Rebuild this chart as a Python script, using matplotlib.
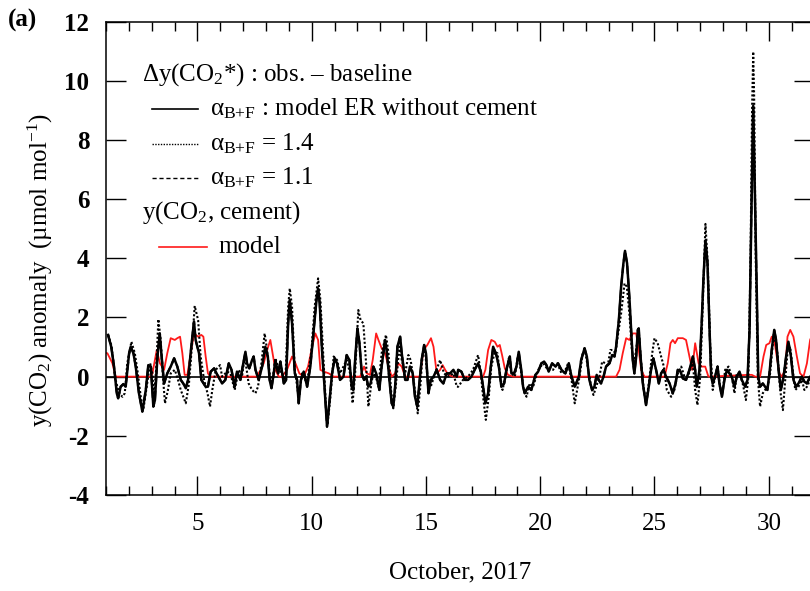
import matplotlib
matplotlib.use("Agg")
import matplotlib.pyplot as plt
from matplotlib.ticker import MultipleLocator

plt.rcParams["font.family"] = ["Liberation Serif", "DejaVu Serif"]
plt.rcParams["mathtext.fontset"] = "custom"
plt.rcParams["mathtext.rm"] = "Liberation Serif"
plt.rcParams["mathtext.it"] = "Liberation Serif:italic"
plt.rcParams["mathtext.bf"] = "Liberation Serif:bold"
plt.rcParams["axes.unicode_minus"] = False

# day of October 2017 and anomaly (umol/mol)
solid_t = [1.09, 1.23, 1.35, 1.47, 1.53, 1.64, 1.76, 1.86, 2.01, 2.08, 2.20, 2.30, 2.44, 2.59, 2.74, 2.85,
           2.96, 3.07, 3.14, 3.25, 3.35, 3.42, 3.54, 3.68, 3.83, 3.98, 4.12, 4.27, 4.38, 4.49, 4.59, 4.73,
           4.85, 4.92, 5.07, 5.17, 5.36, 5.46, 5.58, 5.73, 5.87,
           6.08, 6.22, 6.37, 6.49, 6.63, 6.73, 6.88, 6.98, 7.10, 7.17, 7.27, 7.39, 7.46, 7.54, 7.68, 7.83,
           7.97, 8.08, 8.16, 8.24, 8.34, 8.41, 8.53, 8.63, 8.78, 8.88, 8.97, 9.04, 9.14, 9.26, 9.36, 9.43,
           9.53, 9.65, 9.80, 9.94, 10.09, 10.21, 10.28, 10.35, 10.45, 10.56, 10.67, 10.77, 10.89, 11.01, 11.11,
           11.24, 11.39, 11.53, 11.65, 11.75, 11.82, 11.90, 12.00, 12.09, 12.19, 12.29, 12.38, 12.48, 12.58,
           12.70, 12.82, 12.96, 13.06, 13.21, 13.28, 13.40, 13.50, 13.57, 13.65, 13.75, 13.87, 13.94, 14.09,
           14.19, 14.30, 14.42, 14.52, 14.62, 14.71, 14.81, 14.92, 15.00, 15.11, 15.21, 15.33, 15.47, 15.62,
           15.76, 15.91, 16.05, 16.20, 16.35,
           16.41, 16.55, 16.70, 16.84, 16.99, 17.13, 17.28, 17.40, 17.50, 17.60, 17.72, 17.82, 17.94, 18.08,
           18.19, 18.30, 18.42, 18.52, 18.67, 18.74, 18.86, 18.96, 19.06, 19.15, 19.25, 19.32, 19.47, 19.61,
           19.79, 19.91, 20.05, 20.17, 20.27, 20.37, 20.52, 20.67, 20.78, 20.93, 21.10, 21.25, 21.37, 21.51,
           21.57, 21.69, 21.79, 21.94, 22.04, 22.15, 22.27, 22.37, 22.47, 22.56, 22.66, 22.77, 22.88, 23.03,
           23.15, 23.25, 23.32, 23.44, 23.54, 23.64, 23.71, 23.80, 23.90, 23.98, 24.05, 24.12, 24.20, 24.27,
           24.31, 24.39, 24.49, 24.63, 24.75, 24.85, 24.95, 25.07, 25.19, 25.29, 25.39, 25.51, 25.66, 25.80,
           25.92, 26.02, 26.14, 26.24, 26.38, 26.53,
           26.68, 26.78, 26.85, 26.97, 27.07, 27.14, 27.23, 27.32, 27.41, 27.48, 27.55, 27.65, 27.76, 27.84,
           27.95, 28.06, 28.17, 28.28, 28.38, 28.50, 28.60, 28.72, 28.82, 28.97, 29.07, 29.16, 29.23, 29.32,
           29.41, 29.48, 29.54, 29.62, 29.74, 29.84, 29.94, 30.03, 30.13, 30.24, 30.32, 30.43, 30.53, 30.65,
           30.76, 30.86, 30.97, 31.08, 31.20, 31.30, 31.45, 31.56, 31.67, 31.81, 31.95]
solid_v = [1.41, 1.00, 0.34, -0.56, -0.73, -0.34, -0.25, -0.34, 0.79, 1.01, 0.79, 0.34, -0.56, -1.18, -0.45, 0.39,
           0.34, -1.01, -0.79, 0.68, 1.46, 0.79, -0.23, 0.11, 0.34, 0.62, 0.34, -0.11, -0.23, -0.39, -0.11, 1.01,
           1.86, 1.24, 0.79, -0.11, -0.34, -0.34, 0.17, 0.28, 0.06,
           -0.23, -0.11, 0.45, 0.23, -0.34, 0.17, -0.11, 0.34, 0.84, 0.45, 0.28, 0.56, 0.68, 0.23, -0.11, 0.34,
           1.01, 0.68, -0.11, -0.39, 0.11, 0.56, 0.11, 0.51, -0.23, -0.11, 1.80, 2.59, 1.80, 0.11, -0.11, -0.90,
           -0.11, 0.17, -0.34, 0.34, 1.58, 2.59, 2.98, 2.48, 0.90, -0.34, -1.69, -0.90, 0.11, 0.62, 0.45,
           -0.11, 0.00, 0.73, 0.56, -0.34, -0.45, 0.56, 1.63, 1.13, 0.11, -0.11, 0.00, -0.34, -0.23,
           0.34, 0.11, -0.45, 0.34, 1.24, 0.90, -0.11, -0.90, -1.01, -0.34, 1.01, 1.35, 0.79, -0.11,
           -0.11, 0.34, 0.11, -0.68, -1.01, -0.23, 0.56, 1.07, 0.79, -0.56, -0.11, 0.00, 0.23, -0.11,
           -0.23, 0.11, 0.11, 0.23, 0.00,
           0.23, 0.17, -0.11, -0.11, 0.00, 0.23, 0.45, 0.17, -0.34, -0.90, -0.56, 0.23, 1.01, 0.73,
           0.34, -0.34, -0.23, 0.23, 0.68, 0.11, 0.11, 0.34, 0.84, 0.34, -0.34, -0.56, -0.34, -0.45,
           0.06, 0.17, 0.45, 0.51, 0.39, 0.17, 0.45, 0.34, 0.45, 0.23, 0.11, 0.45, 0.00, -0.34,
           -0.23, 0.00, 0.56, 0.96, 0.68, -0.11, -0.45, -0.34, 0.06, -0.11, -0.23, 0.00, 0.34, 0.45,
           0.73, 0.68, 1.01, 1.91, 3.04, 3.83, 4.25, 3.83, 2.70, 1.58, 0.56, 0.11, 0.68, 1.58,
           1.63, 0.68, -0.23, -0.96, -0.34, 0.23, 0.62, 0.23, -0.23, 0.11, 0.23, 0.00, -0.23, -0.56,
           -0.23, 0.23, 0.17, -0.06, -0.11, 0.23,
           0.68, 0.23, -0.34, 0.23, 1.91, 3.27, 4.60, 3.83, 1.58, 0.00, -0.23, 0.00, 0.34, -0.23,
           -0.68, -0.11, 0.23, 0.11, 0.00, -0.34, 0.00, 0.17, -0.11, -0.34, -0.11, 1.58, 5.00, 9.15,
           5.50, 2.70, 0.00, -0.34, -0.23, -0.34, -0.45, 0.11, 0.90, 1.58, 1.24, 0.23, -0.45, 0.00,
           0.68, 1.18, 0.68, -0.11, -0.34, -0.23, 0.00, -0.17, -0.23, 0.00, -0.10]

dot_t = [1.09, 1.23, 1.42, 1.57, 1.72, 1.82, 1.93, 2.11, 2.26, 2.37, 2.52, 2.63, 2.78, 2.93, 3.03, 3.10,
         3.20, 3.29, 3.39, 3.50, 3.58, 3.71, 3.83, 4.01, 4.15, 4.27, 4.49, 4.63, 4.78, 4.88, 5.03, 5.14,
         5.29, 5.44, 5.55, 5.65, 5.80, 5.99,
         6.08, 6.30, 6.44, 6.63, 6.81, 6.95, 7.07, 7.24, 7.39, 7.54, 7.65, 7.80, 7.94, 8.05, 8.16, 8.27,
         8.41, 8.56, 8.70, 8.85, 8.97, 9.04, 9.14, 9.26, 9.43, 9.58, 9.80, 9.99, 10.13, 10.28, 10.38, 10.50,
         10.60, 10.69, 10.82, 10.96, 11.11,
         11.24, 11.53, 11.68, 11.79, 11.90, 12.04, 12.14, 12.26, 12.38, 12.48, 12.63, 12.77, 12.92, 13.06,
         13.25, 13.36, 13.47, 13.57, 13.69, 13.84, 13.94, 14.09, 14.23, 14.33, 14.48, 14.64, 14.74, 14.86,
         14.96, 15.06, 15.21, 15.40, 15.62, 15.79, 15.98, 16.20, 16.35,
         16.41, 16.62, 16.84, 17.06, 17.28, 17.40, 17.50, 17.62, 17.75, 17.86, 18.01, 18.13, 18.23, 18.35,
         18.48, 18.62, 18.74, 18.89, 19.03, 19.15, 19.28, 19.40, 19.54, 19.69, 19.91, 20.13, 20.34, 20.56,
         20.75, 20.93, 21.07, 21.22, 21.37, 21.51,
         21.72, 21.86, 21.98, 22.08, 22.23, 22.33, 22.45, 22.59, 22.71, 22.85, 22.96, 23.07, 23.18, 23.29,
         23.39, 23.54, 23.69, 23.79, 23.90, 24.01, 24.12, 24.23, 24.31, 24.39, 24.52, 24.63, 24.75, 24.90,
         25.00, 25.14, 25.29, 25.41, 25.54, 25.73, 25.87, 26.02, 26.17, 26.31, 26.46, 26.56,
         26.68, 26.78, 26.88, 27.00, 27.11, 27.23, 27.33, 27.44, 27.55, 27.65, 27.76, 27.87, 27.98, 28.09,
         28.24, 28.38, 28.50, 28.60, 28.75, 28.89, 29.00, 29.11, 29.20, 29.27, 29.32, 29.36, 29.43, 29.52,
         29.62, 29.74, 29.84, 29.96, 30.06, 30.18, 30.28, 30.38, 30.50, 30.62, 30.72, 30.83, 30.94, 31.05,
         31.16, 31.30, 31.45, 31.56, 31.67, 31.81, 31.95]
dot_v = [1.41, 1.07, -0.11, -0.56, -0.68, -0.56, 0.45, 1.18, 0.79, 0.23, -0.68, -1.13, -0.34, 0.45, 0.11, -0.68,
         0.34, 1.94, 1.24, -0.11, -0.90, -0.45, 0.11, 0.23, -0.11, -0.45, -0.90, -0.23, 1.24, 2.39, 1.91, 0.68,
         -0.11, -0.56, -1.01, -0.45, 0.23, 0.39,
         0.00, 0.17, 0.11, -0.45, 0.23, 0.00, 0.68, -0.23, -0.45, -0.56, -0.34, 0.45, 1.46, 0.90, 0.11, -0.23,
         0.62, 0.23, 0.11, -0.11, 2.36, 2.98, 2.36, 0.23, -0.68, 0.11, -0.23, 0.90, 2.36, 3.32, 2.59, 0.79,
         -0.68, -1.63, -0.68, 0.68, 0.56,
         0.11, 0.56, 0.11, -0.90, 0.11, 2.25, 1.91, 1.80, 0.45, -1.01, -0.11, 0.11, -0.34, 0.79,
         1.41, 0.79, -0.45, -1.07, -0.23, 1.01, 0.56, 0.11, 0.73, 0.56, -0.23, -1.24, -0.45, 0.79,
         0.90, 0.00, -0.34, 0.11, 0.56, 0.11, 0.00, 0.11, -0.34,
         -0.34, -0.11, 0.00, 0.23, 0.73, 0.11, -0.68, -1.46, -0.68, 0.34, 0.84, 0.79, 0.11, -0.45,
         0.00, 0.62, 0.11, 0.00, 0.73, 0.23, -0.45, -0.68, -0.23, -0.34, 0.23, 0.45, 0.23, 0.23,
         0.45, 0.11, 0.17, 0.45, -0.11, -0.90,
         0.00, 0.79, 0.79, 0.34, -0.34, -0.62, -0.34, 0.00, 0.51, 0.45, 0.39, 0.90, 0.90, 0.79,
         1.35, 2.14, 3.15, 3.04, 2.14, 0.90, 0.45, 1.13, 1.58, 0.68, -0.34, -0.90, -0.23, 0.79,
         1.30, 1.13, 0.68, 0.34, -0.45, -0.68, -0.45, 0.11, 0.34, 0.00, 0.00, 0.23,
         0.45, -0.45, -0.96, 0.00, 2.36, 5.16, 3.83, 1.01, -0.45, 0.00, 0.34, -0.34, -0.56, 0.23,
         0.34, 0.00, -0.56, 0.11, 0.11, -0.34, -0.79, 0.00, 3.80, 9.00, 10.98, 9.50, 4.00, 0.00,
         -1.01, -0.56, -0.45, -0.34, 0.11, 1.13, 1.35, 0.79, -0.45, -1.13, -0.11, 0.90, 1.01, 0.23,
         -0.45, -0.34, -0.11, -0.45, -0.34, -0.11, -0.20]

# the alpha = 1.1 curve sits almost exactly under the solid curve
dash_t = solid_t
dash_v = solid_v

red_t = [1.00, 1.06, 1.28, 1.42, 2.96, 3.03, 3.22, 3.36, 3.54, 3.68, 3.83, 4.01, 4.12, 4.24, 4.34, 4.44,
         4.56, 4.73, 4.85, 5.03, 5.17, 5.26, 5.36, 5.46, 5.58,
         7.61, 7.76, 7.90, 8.05, 8.19, 8.29, 8.41, 8.56, 8.70, 8.92, 9.14, 9.29, 9.46, 9.65, 9.84, 10.02,
         10.16, 10.28, 10.38, 10.53, 10.75, 10.96,
         12.12, 12.29, 12.41, 12.55, 12.67, 12.82, 12.92, 13.06, 13.21, 13.36, 13.50, 13.65, 13.79, 13.94,
         14.09, 14.74, 14.89, 15.06, 15.22, 15.33, 15.47, 15.62, 15.73, 15.84, 15.98, 16.20,
         17.50, 17.60, 17.72, 17.86, 18.01, 18.13, 18.23, 18.33, 18.45, 18.59, 18.81,
         23.32, 23.47, 23.61, 23.76, 23.90, 24.05, 24.20, 24.31, 24.42, 24.56,
         25.44, 25.58, 25.70, 25.80, 25.90, 26.02, 26.24, 26.38, 26.53, 26.65, 26.78, 26.93, 27.07, 27.22,
         27.36, 29.11, 29.26, 29.41, 29.62, 29.77, 29.89, 30.03, 30.13, 30.24, 30.35, 30.47, 30.57, 30.72,
         30.82, 30.94, 31.08, 31.23, 31.37, 31.52, 31.67, 31.81, 31.95]
red_v = [0.80, 0.79, 0.45, 0.00, 0.00, 0.11, 0.90, 0.45, 0.23, 0.79, 1.30, 1.24, 1.30, 1.35, 0.79, 0.06,
         0.06, 0.90, 1.46, 1.35, 1.41, 1.35, 0.68, 0.11, 0.00,
         0.00, 0.23, 0.45, 0.90, 1.24, 0.79, 0.23, 0.00, 0.00, 0.23, 0.68, 0.45, 0.11, 0.00, 0.34, 1.01,
         1.46, 1.24, 0.23, 0.17, 0.11, 0.00,
         0.00, 0.34, 0.11, 0.06, 0.56, 1.46, 1.24, 0.96, 0.79, 0.34, 0.00, 0.11, 0.45, 0.34,
         0.00, 0.00, 0.90, 1.07, 1.30, 1.01, 0.11, 0.23, 0.39, 0.23, 0.06, 0.00,
         0.00, 0.23, 0.90, 1.24, 1.18, 1.01, 1.07, 0.73, 0.28, 0.06, 0.00,
         0.00, 0.23, 0.79, 1.30, 1.24, 1.46, 1.46, 0.90, 0.23, 0.00,
         0.00, 0.45, 1.13, 1.24, 1.13, 1.30, 1.30, 1.24, 0.68, 0.23, 1.13, 0.45, 0.34, 0.34,
         0.00, 0.06, 0.06, 0.00, 0.00, 0.68, 1.07, 1.13, 1.35, 1.24, 0.68, 0.11, 0.00, 0.23,
         1.35, 1.58, 1.35, 0.68, 0.11, 0.00, 0.45, 1.24, 1.50]

fig = plt.figure(figsize=(8.1, 5.91), dpi=100)
ax = fig.add_axes([0.1309, 0.1624, 0.8746, 0.8012])

ax.axhline(0, color="black", lw=1.2, zorder=1)
ax.plot(red_t, red_v, color="#ff1a1a", lw=1.3, zorder=2)
ax.plot(dot_t, dot_v, color="black", lw=1.5, ls=(0, (1, 1)), zorder=3)
ax.plot(dash_t, dash_v, color="black", lw=1.5, ls=(0, (4, 2)), zorder=4)
ax.plot(solid_t, solid_v, color="black", lw=1.8, zorder=5)

ax.set_xlim(1, 32)
ax.set_ylim(-4, 12)
ax.xaxis.set_major_locator(MultipleLocator(5))
ax.xaxis.set_minor_locator(MultipleLocator(1))
ax.yaxis.set_major_locator(MultipleLocator(2))
ax.tick_params(which="both", direction="in", top=True, right=True, width=1.0)
ax.tick_params(axis="x", which="major", length=13.5, labelsize=18, pad=13)
ax.tick_params(axis="x", which="minor", length=6.5)
ax.tick_params(axis="y", which="major", length=14.5, labelsize=18, pad=12)
for lab in ax.get_yticklabels():
    lab.set_fontweight("bold")
for s in ax.spines.values():
    s.set_linewidth(1.1)

ax.set_xlabel("October, 2017", fontsize=18)
ax.xaxis.set_label_coords(0.5, -0.14)
ax.set_ylabel("y(CO$_2$) anomaly  (\u00b5mol mol$^{-1}$)", fontsize=18)
ax.yaxis.set_label_coords(-0.072, 0.475)

fig.text(8 / 810, 1 - 20 / 591, "(a)", fontsize=18, fontweight="bold", va="center", ha="left")

# hand-made legend
fs = 18
sub = "$_{\\mathrm{B{+}F}}$"
ax.text(0.0504, 0.887, "\u0394y(CO$_2$*) : obs. \u2013 baseline", transform=ax.transAxes,
        fontsize=fs, va="center", ha="left")
ax.plot([0.0645, 0.130], [0.815, 0.815], transform=ax.transAxes, color="black", lw=1.2)
ax.text(0.1468, 0.815, "\u03b1" + sub + " : model ER without cement", transform=ax.transAxes,
        fontsize=fs, va="center", ha="left")
ax.plot([0.0645, 0.130], [0.7413, 0.7413], transform=ax.transAxes, color="black", lw=1.0,
        ls=(0, (1, 1)))
ax.text(0.1468, 0.7413, "\u03b1" + sub + " = 1.4", transform=ax.transAxes,
        fontsize=fs, va="center", ha="left")
ax.plot([0.0645, 0.130], [0.6695, 0.6695], transform=ax.transAxes, color="black", lw=1.0,
        ls=(0, (3, 2)))
ax.text(0.1468, 0.6695, "\u03b1" + sub + " = 1.1", transform=ax.transAxes,
        fontsize=fs, va="center", ha="left")
ax.text(0.0504, 0.5956, "y(CO$_2$, cement)", transform=ax.transAxes,
        fontsize=fs, va="center", ha="left")
ax.plot([0.0748, 0.1426], [0.5238, 0.5238], transform=ax.transAxes, color="#ff1a1a", lw=1.2)
ax.text(0.158, 0.5238, "model", transform=ax.transAxes, fontsize=fs, va="center", ha="left")

fig.savefig("out.png", dpi=100)
